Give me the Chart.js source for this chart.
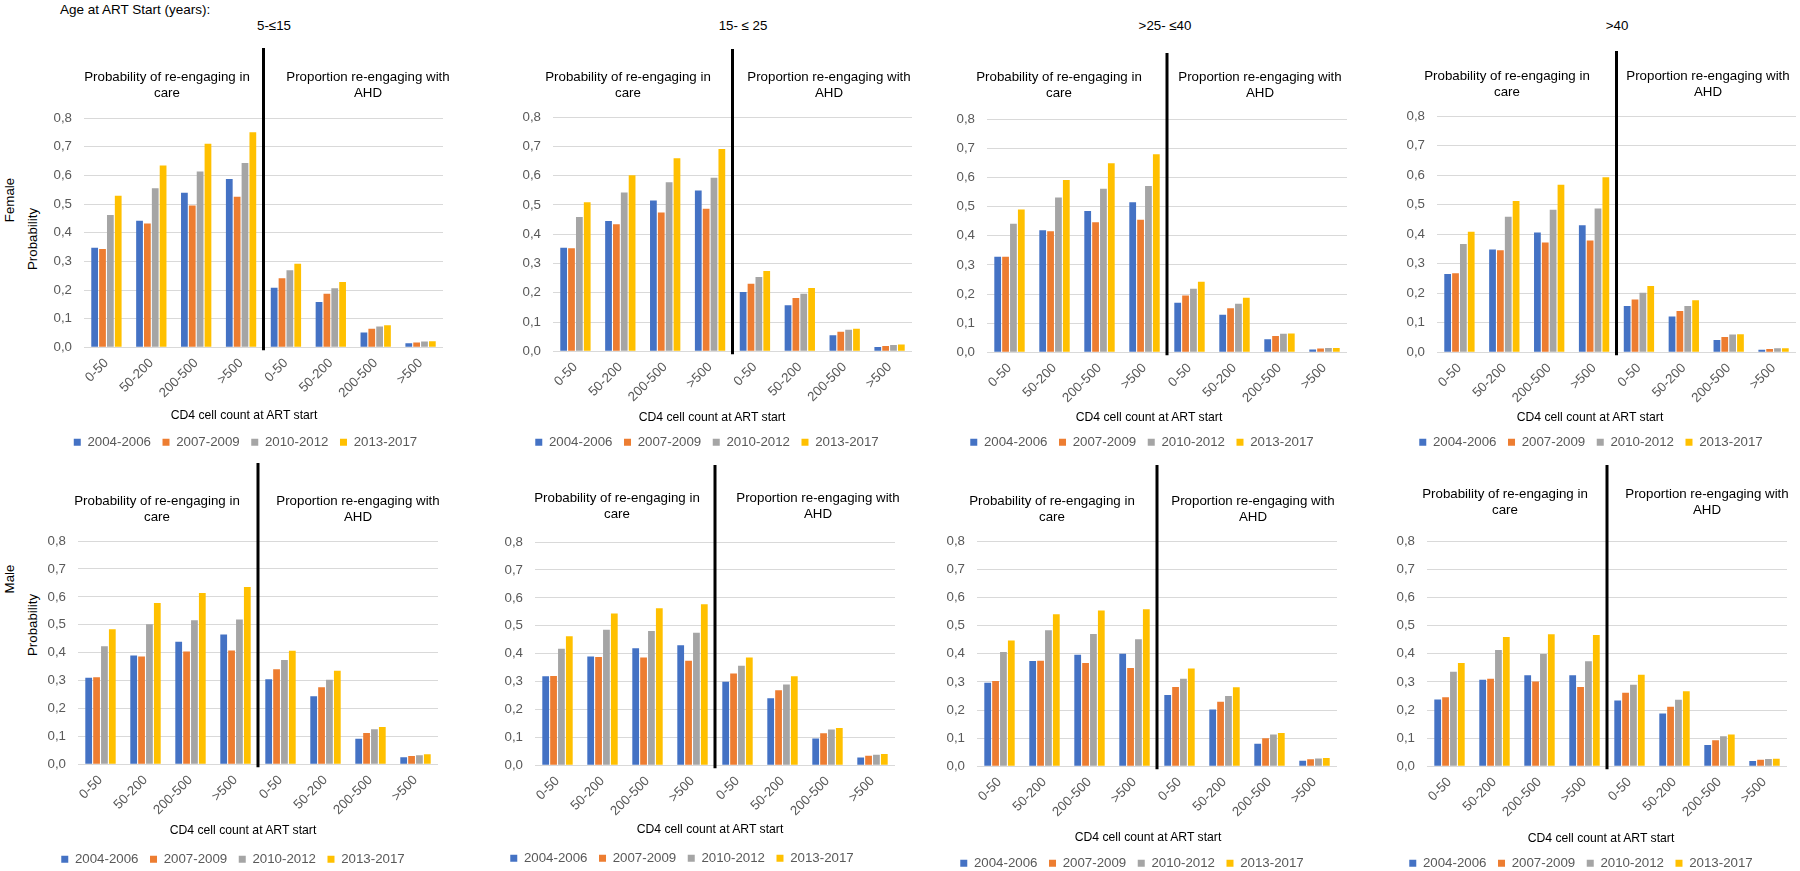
<!DOCTYPE html>
<html><head><meta charset="utf-8">
<script src="https://cdn.jsdelivr.net/npm/chart.js@4.4.1/dist/chart.umd.min.js"></script>
<style>
html,body{margin:0;padding:0;background:#fff;width:1800px;height:871px;overflow:hidden;}
#wrap{position:relative;width:1800px;height:871px;overflow:hidden;}
canvas{position:absolute;}
.t{position:absolute;white-space:nowrap;font-family:"Liberation Sans",Arial,sans-serif;color:#000;font-size:13.3px;}
</style></head><body><div id="wrap"></div>
<script>
// ---------- data ----------
const categories = ['0-50','50-200','200-500','>500','0-50','50-200','200-500','>500'];
const periods = ['2004-2006','2007-2009','2010-2012','2013-2017'];
const yTickLabels = ['0,0','0,1','0,2','0,3','0,4','0,5','0,6','0,7','0,8'];
const ageGroups = ['5-\u226415','15- \u2264 25','>25- \u226440','>40'];
const sexes = ['Female','Male'];
const leftSectionLines = ['Probability of re-engaging in','care'];
const rightSectionLines = ['Proportion re-engaging with','AHD'];
const xAxisTitle = 'CD4 cell count at ART start';
const yAxisTitle = 'Probability';
const headerLabel = 'Age at ART Start (years):';

// rows: 2004-2006, 2007-2009, 2010-2012, 2013-2017
const female_5to15 = [
  [0.347,0.442,0.539,0.587,0.208,0.158,0.052,0.014],
  [0.343,0.432,0.495,0.525,0.241,0.187,0.065,0.017],
  [0.462,0.555,0.613,0.643,0.269,0.206,0.073,0.020],
  [0.529,0.634,0.710,0.750,0.292,0.228,0.077,0.021]
];
const female_15to25 = [
  [0.354,0.445,0.515,0.549,0.203,0.157,0.055,0.015],
  [0.352,0.434,0.474,0.487,0.231,0.182,0.067,0.018],
  [0.459,0.542,0.577,0.593,0.254,0.197,0.074,0.022],
  [0.509,0.601,0.659,0.691,0.274,0.216,0.077,0.023]
];
const female_25to40 = [
  [0.328,0.419,0.485,0.515,0.170,0.129,0.045,0.010],
  [0.328,0.415,0.446,0.455,0.195,0.151,0.056,0.013],
  [0.441,0.531,0.561,0.570,0.218,0.167,0.064,0.015],
  [0.490,0.591,0.648,0.679,0.242,0.187,0.065,0.015]
];
const female_over40 = [
  [0.265,0.348,0.406,0.430,0.157,0.121,0.042,0.009],
  [0.268,0.346,0.372,0.379,0.179,0.140,0.052,0.011],
  [0.367,0.459,0.483,0.487,0.202,0.157,0.060,0.014],
  [0.408,0.512,0.567,0.593,0.225,0.176,0.061,0.014]
];
const male_5to15 = [
  [0.310,0.390,0.439,0.465,0.305,0.244,0.092,0.025],
  [0.312,0.386,0.404,0.408,0.341,0.276,0.112,0.030],
  [0.423,0.502,0.516,0.519,0.374,0.303,0.126,0.033],
  [0.484,0.578,0.614,0.635,0.407,0.335,0.134,0.036]
];
const male_15to25 = [
  [0.319,0.390,0.419,0.430,0.299,0.240,0.096,0.028],
  [0.320,0.388,0.386,0.375,0.329,0.269,0.115,0.034],
  [0.418,0.486,0.481,0.475,0.357,0.290,0.128,0.038],
  [0.462,0.544,0.563,0.577,0.386,0.319,0.134,0.041]
];
const male_25to40 = [
  [0.297,0.374,0.396,0.400,0.253,0.202,0.080,0.020],
  [0.303,0.375,0.367,0.349,0.282,0.229,0.100,0.025],
  [0.406,0.483,0.470,0.451,0.311,0.250,0.113,0.028],
  [0.447,0.540,0.553,0.558,0.347,0.281,0.118,0.030]
];
const male_over40 = [
  [0.237,0.307,0.323,0.323,0.234,0.188,0.076,0.019],
  [0.245,0.311,0.301,0.282,0.261,0.212,0.093,0.023],
  [0.336,0.413,0.399,0.373,0.290,0.236,0.107,0.026],
  [0.367,0.459,0.469,0.466,0.325,0.267,0.113,0.027]
];
const panelData = [female_5to15, female_15to25, female_25to40, female_over40,
                   male_5to15, male_15to25, male_25to40, male_over40];

// ---------- layout & style ----------
const seriesColors = ['#4472C4','#ED7D31','#A5A5A5','#FFC000'];
const FONT = '"Liberation Sans", Arial, sans-serif';
const FS = 13.3;         // tick / legend font size
const LEG_PAD = 11.5;    // legend item padding
const panelLayout = [
  {L:84,  R:443,  T:118, B:347, lineTop:48,  legendY:442, legendX:250,  titleX:274,  ann:[[167,77],[368,77]],   xTitle:[244,415]},
  {L:553, R:912,  T:117, B:351, lineTop:49,  legendY:442, legendX:707,  titleX:743,  ann:[[628,77],[829,77]],   xTitle:[712,417]},
  {L:987, R:1347, T:119, B:352, lineTop:53,  legendY:442, legendX:1142, titleX:1165, ann:[[1059,77],[1260,77]], xTitle:[1149,417]},
  {L:1437,R:1796, T:116, B:352, lineTop:51,  legendY:442, legendX:1591, titleX:1617, ann:[[1507,76],[1708,76]], xTitle:[1590,417]},
  {L:78,  R:438,  T:541, B:764, lineTop:463, legendY:859, legendX:233,  ann:[[157,501],[358,501]],  xTitle:[243,830]},
  {L:535, R:895,  T:542, B:765, lineTop:465, legendY:858, legendX:682,  ann:[[617,498],[818,498]],  xTitle:[710,829]},
  {L:977, R:1337, T:541, B:766, lineTop:465, legendY:863, legendX:1132, ann:[[1052,501],[1253,501]],xTitle:[1148,837]},
  {L:1427,R:1787, T:541, B:766, lineTop:465, legendY:863, legendX:1581, ann:[[1505,494],[1707,494]],xTitle:[1601,838]}
];
const sideLabels = [
  {text: sexes[0], x:9,  y:200}, {text: yAxisTitle, x:32, y:239},
  {text: sexes[1], x:9,  y:579}, {text: yAxisTitle, x:32, y:625}
];

const wrap = document.getElementById('wrap');
function addText(txt, x, y, opt = {}) {
  const d = document.createElement('div');
  d.className = 't';
  d.textContent = txt;
  d.style.left = x + 'px';
  d.style.top = y + 'px';
  if (opt.size) d.style.fontSize = opt.size + 'px';
  d.style.transform = opt.transform || 'translate(-50%,-50%)';
  wrap.appendChild(d);
  return d;
}
function addLines(lines, x, y1) {
  const d = document.createElement('div');
  d.className = 't';
  d.style.left = x + 'px';
  d.style.top = (y1 - 8) + 'px';
  d.style.lineHeight = '16px';
  d.style.textAlign = 'center';
  d.style.transform = 'translateX(-50%)';
  lines.forEach((l, i) => { if (i) d.appendChild(document.createElement('br')); d.appendChild(document.createTextNode(l)); });
  wrap.appendChild(d);
}

addText(headerLabel, 60, 9, {transform:'translate(0,-50%)', size:13.5});
sideLabels.forEach(s => addText(s.text, s.x, s.y, {transform:'translate(-50%,-50%) rotate(-90deg)'}));

Chart.defaults.font.family = FONT;
Chart.defaults.color = '#595959';

const dividerPlugin = {
  id: 'divider',
  afterDatasetsDraw(chart, args, opts) {
    const xs = chart.scales.x;
    const px = (xs.getPixelForValue(3) + xs.getPixelForValue(4)) / 2;
    const ctx = chart.ctx;
    ctx.save();
    ctx.strokeStyle = '#000';
    ctx.lineWidth = 3;
    ctx.beginPath();
    ctx.moveTo(px, opts.top);
    ctx.lineTo(px, chart.chartArea.bottom + 3);
    ctx.stroke();
    ctx.restore();
  }
};

panelLayout.forEach((p, i) => {
  const yw = Math.max(p.L - (2 * p.legendX - p.R), 36);  // y-axis box width
  const S = p.L - yw;                  // left edge of legend box
  const cl = S - 20, padL = 20;
  const cw = p.R - cl;
  const ct = p.lineTop - 10;
  const cb = p.legendY + FS / 2 + 10;
  const xh = (p.legendY - LEG_PAD - FS / 2) - p.B;
  const ch = Math.ceil(cb - ct);

  const cv = document.createElement('canvas');
  cv.width = cw; cv.height = ch;
  cv.style.left = cl + 'px'; cv.style.top = ct + 'px';
  cv.style.width = cw + 'px'; cv.style.height = ch + 'px';
  wrap.appendChild(cv);

  if (i < 4) addText(ageGroups[i], p.titleX, 25);
  addLines(leftSectionLines, p.ann[0][0], p.ann[0][1]);
  addLines(rightSectionLines, p.ann[1][0], p.ann[1][1]);
  addText(xAxisTitle, p.xTitle[0], p.xTitle[1], {size:12.2});

  new Chart(cv, {
    type: 'bar',
    data: {
      labels: categories,
      datasets: periods.map((name, k) => ({
        label: name,
        data: panelData[i][k],
        backgroundColor: seriesColors[k],
        borderWidth: 0,
        categoryPercentage: 0.7,
        barPercentage: 0.86
      }))
    },
    options: {
      responsive: false,
      animation: false,
      events: [],
      devicePixelRatio: 1,
      layout: { padding: { left: padL, right: 0, top: p.T - ct, bottom: 0 } },
      scales: {
        x: {
          grid: { display: false, drawTicks: false },
          border: { display: false },
          ticks: { autoSkip: false, minRotation: 45, maxRotation: 45, padding: 8,
                   font: { size: FS }, color: '#595959' },
          afterFit(s) { s.height = xh; }
        },
        y: {
          min: 0, max: 0.8,
          grid: { color: '#D9D9D9', lineWidth: 1, drawTicks: false },
          border: { display: false },
          ticks: { stepSize: 0.1, padding: 12, font: { size: FS }, color: '#595959',
                   callback: (v, idx) => yTickLabels[idx] },
          afterFit(s) { s.width = yw; }
        }
      },
      plugins: {
        legend: {
          position: 'bottom',
          align: 'center',
          labels: { boxWidth: 7, boxHeight: 7, padding: LEG_PAD, font: { size: FS }, color: '#595959' }
        },
        tooltip: { enabled: false },
        title: { display: false },
        divider: { top: p.lineTop - ct }
      }
    },
    plugins: [dividerPlugin]
  });
});
</script></body></html>
